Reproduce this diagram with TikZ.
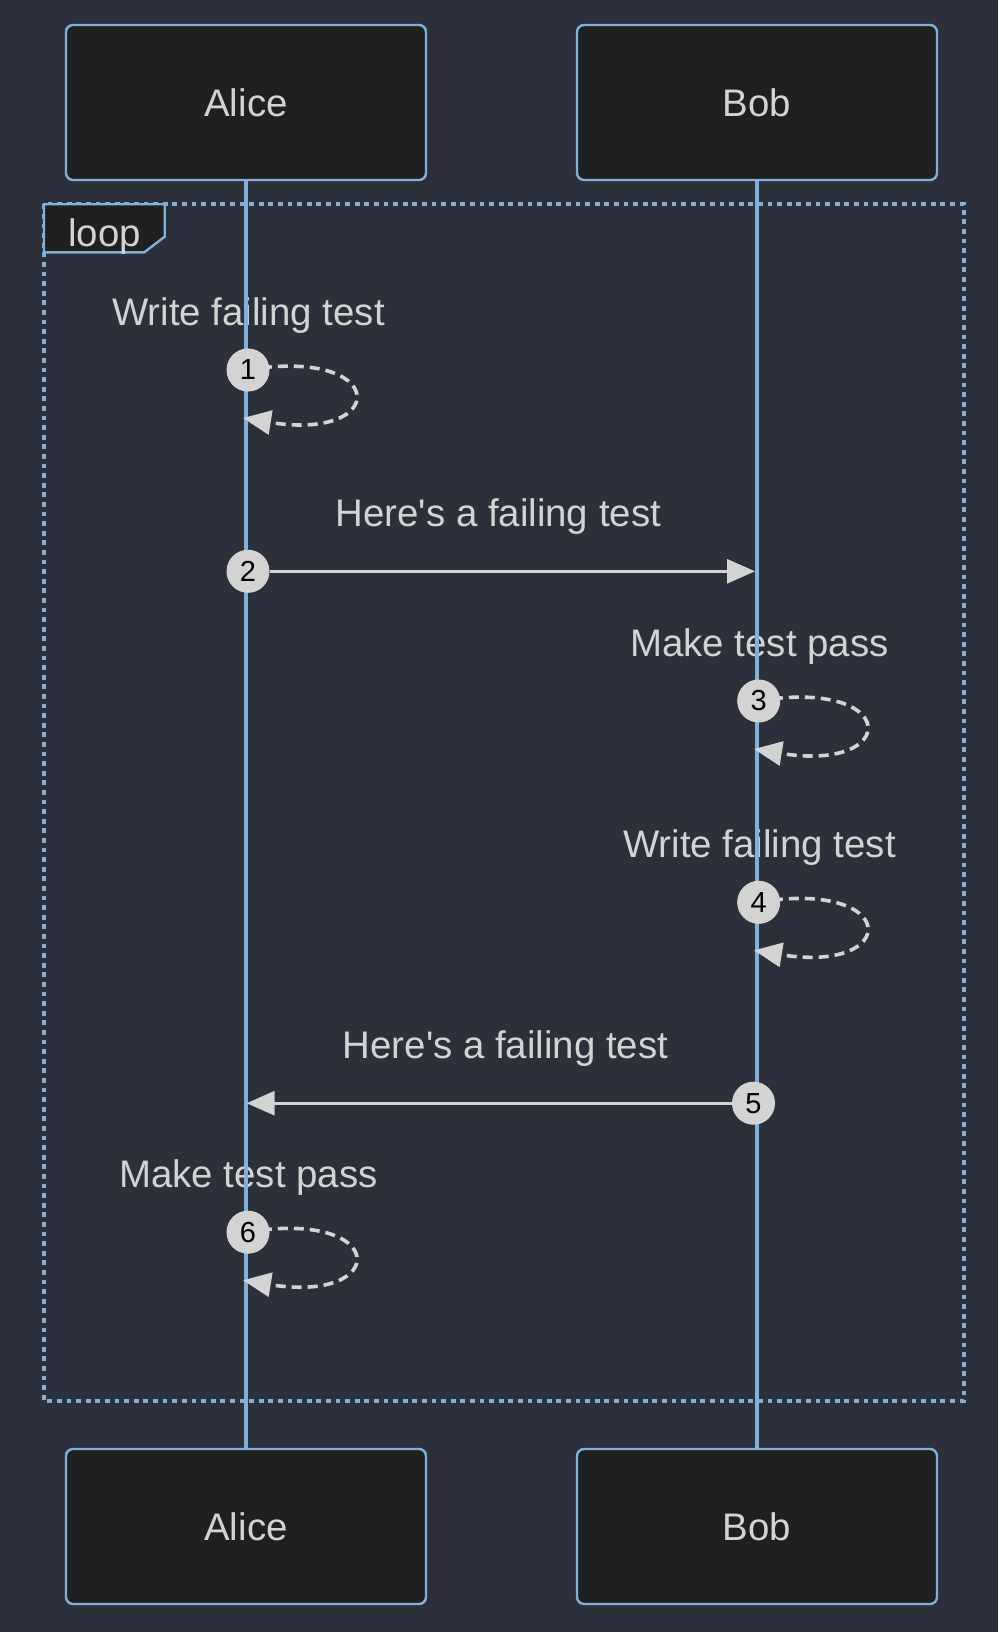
\documentclass[tikz,border=0pt]{standalone}
\usepackage{fontspec}
\setmainfont{Liberation Sans}
\usetikzlibrary{arrows.meta}
\definecolor{bg}{HTML}{2B303B}
\definecolor{boxfill}{HTML}{1F2020}
\definecolor{blueline}{HTML}{81B1DB}
\definecolor{sig}{HTML}{D3D3D3}
\definecolor{txt}{HTML}{D3D3D3}
\tikzset{
  actor/.style={draw=blueline, line width=2.4pt, fill=boxfill, rounded corners=7pt,
    minimum width=360pt, minimum height=155pt, text=txt, inner sep=0pt,
    font=\fontsize{38.4}{46}\selectfont},
  life/.style={draw=blueline, line width=4pt},
  msgtext/.style={text=txt, anchor=base, inner sep=0pt, font=\fontsize{38.4}{46}\selectfont},
  seqnum/.style={circle, fill=sig, draw=sig, line width=1pt, minimum size=42pt, inner sep=0pt,
    text=black, font=\fontsize{29}{34}\selectfont},
  sigline/.style={draw=sig, line width=3pt, -{Triangle[length=28pt, width=24pt]}},
  selfloop/.style={draw=sig, line width=3.6pt, dash pattern=on 10pt off 6pt,
    -{Triangle[length=28pt, width=24pt]}},
  loopframe/.style={draw=blueline, line width=4pt, dash pattern=on 4.8pt off 4.8pt},
  looplabel/.style={draw=blueline, line width=2.4pt, fill=boxfill},
}
\begin{document}
\begin{tikzpicture}[x=1pt, y=-1pt]
\fill[bg] (0,0) rectangle (998,1632);
\useasboundingbox (0,0) rectangle (998,1632);

% loop frame
\draw[loopframe] (44,204.3) rectangle (963.7,1400.8);
\draw[looplabel] (44,204.3) -- (164.7,204.3) -- (164.7,236.7) -- (144.3,252.3) -- (44,252.3) -- cycle;
\node[msgtext] (looptxt) at (104.5,246) {loop};

% message texts
\node[msgtext] (t1) at (248.5,325) {Write failing test};
\node[msgtext] (t2) at (498.3,526.3) {Here\textquotesingle s a failing test};
\node[msgtext] (t3) at (759.5,656) {Make test pass};
\node[msgtext] (t4) at (759.5,857.3) {Write failing test};
\node[msgtext] (t5) at (505.5,1058.2) {Here\textquotesingle s a failing test};
\node[msgtext] (t6) at (248.5,1187.2) {Make test pass};

% actors
\node[actor] (at) at (246,102.5) {Alice};
\node[actor] (bt) at (757,102.5) {Bob};
\node[actor] (ab) at (246,1526.5) {Alice};
\node[actor] (bb) at (757,1526.5) {Bob};

% lifelines
\draw[life] (at.south) -- (ab.north);
\draw[life] (bt.south) -- (bb.north);

% message coordinates
\coordinate (s1) at (246,370);
\coordinate (e1) at (243,418);
\coordinate (e2) at (755,571.3);
\coordinate (s3) at (757,701);
\coordinate (e3) at (754,749);
\coordinate (s4) at (757,902.3);
\coordinate (e4) at (754,950.3);
\coordinate (e5) at (246.6,1103.2);
\coordinate (s6) at (246,1232.2);
\coordinate (e6) at (243,1280.2);

% self loops
\draw[selfloop] (s1) .. controls (390,346) and (390,442) .. (e1);
\draw[selfloop] (s3) .. controls (901,677) and (901,773) .. (e3);
\draw[selfloop] (s4) .. controls (901,878.3) and (901,974.3) .. (e4);
\draw[selfloop] (s6) .. controls (390,1208.2) and (390,1304.2) .. (e6);

% numbers
\node[seqnum] (c1) at (248,370) {1};
\node[seqnum] (c2) at (248,571.3) {2};
\node[seqnum] (c3) at (758.7,701) {3};
\node[seqnum] (c4) at (758.7,902.3) {4};
\node[seqnum] (c5) at (753.5,1103.2) {5};
\node[seqnum] (c6) at (248,1232.2) {6};

% straight messages
\draw[sigline] (c2) -- (e2);
\draw[sigline] (c5) -- (e5);
\end{tikzpicture}
\end{document}
